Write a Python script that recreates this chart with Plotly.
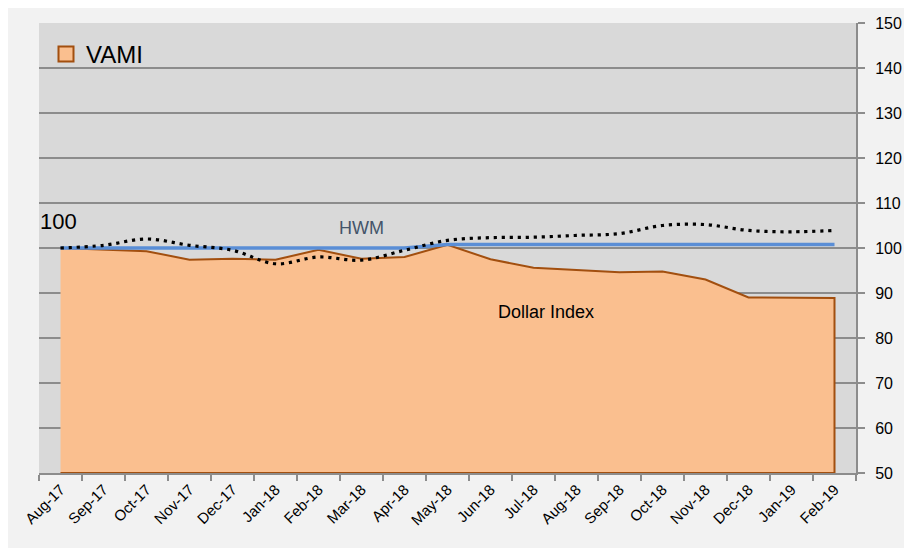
import plotly.graph_objects as go

# ---- data ----
months = ["Aug-17", "Sep-17", "Oct-17", "Nov-17", "Dec-17", "Jan-18", "Feb-18", "Mar-18",
          "Apr-18", "May-18", "Jun-18", "Jul-18", "Aug-18", "Sep-18", "Oct-18", "Nov-18",
          "Dec-18", "Jan-19", "Feb-19"]
vami = [100.0, 99.7, 99.3, 97.4, 97.6, 97.4, 99.6, 97.6, 98.0, 100.7, 97.5, 95.6,
        95.1, 94.6, 94.8, 93.0, 89.0, 88.9, 88.9]
hwm = [100.0, 100.0, 100.0, 100.0, 100.0, 100.0, 100.0, 100.0, 100.0, 100.8, 100.8,
       100.8, 100.8, 100.8, 100.8, 100.8, 100.8, 100.8, 100.8]
dollar_index = [100.0, 100.6, 102.0, 100.6, 99.5, 96.5, 98.0, 97.3, 99.5, 101.7, 102.3,
                102.4, 102.8, 103.2, 105.0, 105.2, 103.9, 103.6, 103.9]
y_ticks = [50, 60, 70, 80, 90, 100, 110, 120, 130, 140, 150]

# ---- style / layout (page body adds an 8px offset) ----
OFF = 8
W, H = 912 - OFF, 553 - OFF
ML, MR, MT, MB = 31, 56, 15, 80
PW, PH = W - ML - MR, H - MT - MB
FILL = "#FABF8F"
EDGE = "#A24F0F"
HWM_C = "#5A8ED6"
GRID = "#8C8C8C"
FONT = "Liberation Sans"
ymin, ymax = y_ticks[0], y_ticks[-1]

def px_x(sx):
    return (sx - OFF - ML) / PW

def px_y(sy):
    return (H - MB - (sy - OFF)) / PH

fig = go.Figure()

# VAMI area (closed polygon down to the axis minimum)
fig.add_trace(go.Scatter(
    x=months + [months[-1], months[0]],
    y=vami + [ymin, ymin],
    mode="lines", fill="toself", fillcolor=FILL,
    line=dict(color=EDGE, width=2),
    showlegend=False, hoverinfo="skip"))

# HWM
fig.add_trace(go.Scatter(x=months, y=hwm, mode="lines",
                         line=dict(color=HWM_C, width=3.5),
                         showlegend=False, name="HWM"))

# Dollar Index (smoothed dotted)
fig.add_trace(go.Scatter(x=months, y=dollar_index, mode="lines",
                         line=dict(color="black", width=3.2, dash="3.2px,4.8px",
                                   shape="spline", smoothing=1),
                         showlegend=False, name="Dollar Index"))

# legend entry for VAMI
fig.add_trace(go.Scatter(x=[None], y=[None], mode="markers", name="VAMI",
                         marker=dict(symbol="square", size=15, color=FILL,
                                     line=dict(color=EDGE, width=2))))

annotations = [
    dict(x=months[0], y=vami[0], text=f"{vami[0]:.0f}", showarrow=False,
         yshift=27, xshift=-2, font=dict(family=FONT, size=22, color="black")),
    dict(x=months[7], y=hwm[7], text="HWM", showarrow=False, yshift=20,
         font=dict(family=FONT, size=18, color="#44546A")),
    dict(x=months[11], y=85.7, text="Dollar Index", showarrow=False, xshift=12,
         font=dict(family=FONT, size=18, color="black")),
]

# white frame on the right and bottom of the light-grey chart area
frame = []
for x0, x1, y0, y1 in [(905, 912, 0, 553), (0, 912, 548, 553)]:
    frame.append(dict(type="rect", xref="paper", yref="paper",
                      x0=px_x(x0), x1=px_x(x1 + 2), y0=px_y(y1 + 2), y1=px_y(y0),
                      fillcolor="white", line=dict(width=0), layer="above"))

fig.update_layout(
    width=W, height=H,
    margin=dict(l=ML, r=MR, t=MT, b=MB, autoexpand=False),
    paper_bgcolor="#F2F2F2", plot_bgcolor="#D9D9D9",
    font=dict(family=FONT, color="black"),
    showlegend=True,
    legend=dict(x=px_x(46), y=px_y(32), xanchor="left", yanchor="top",
                bgcolor="rgba(0,0,0,0)", font=dict(family=FONT, size=24),
                itemwidth=30, tracegroupgap=0),
    annotations=annotations,
    shapes=frame,
    xaxis=dict(type="category", categoryorder="array", categoryarray=months,
               range=[-0.5, len(months) - 0.5], tickson="boundaries",
               showgrid=False, showline=True, linecolor=GRID, linewidth=2,
               ticks="outside", ticklen=6, tickcolor=GRID, tickwidth=2,
               tickangle=-45, tickfont=dict(family=FONT, size=15, color="black"),
               zeroline=False, fixedrange=True),
    yaxis=dict(side="right", range=[ymin, ymax], tickvals=y_ticks,
               showgrid=True, gridcolor=GRID, gridwidth=2,
               showline=True, linecolor=GRID, linewidth=2,
               ticks="outside", ticklen=7, tickcolor=GRID, tickwidth=2,
               tickfont=dict(family=FONT, size=16, color="black"),
               ticklabelstandoff=7, zeroline=False, fixedrange=True),
)

fig.write_html("out.html")
